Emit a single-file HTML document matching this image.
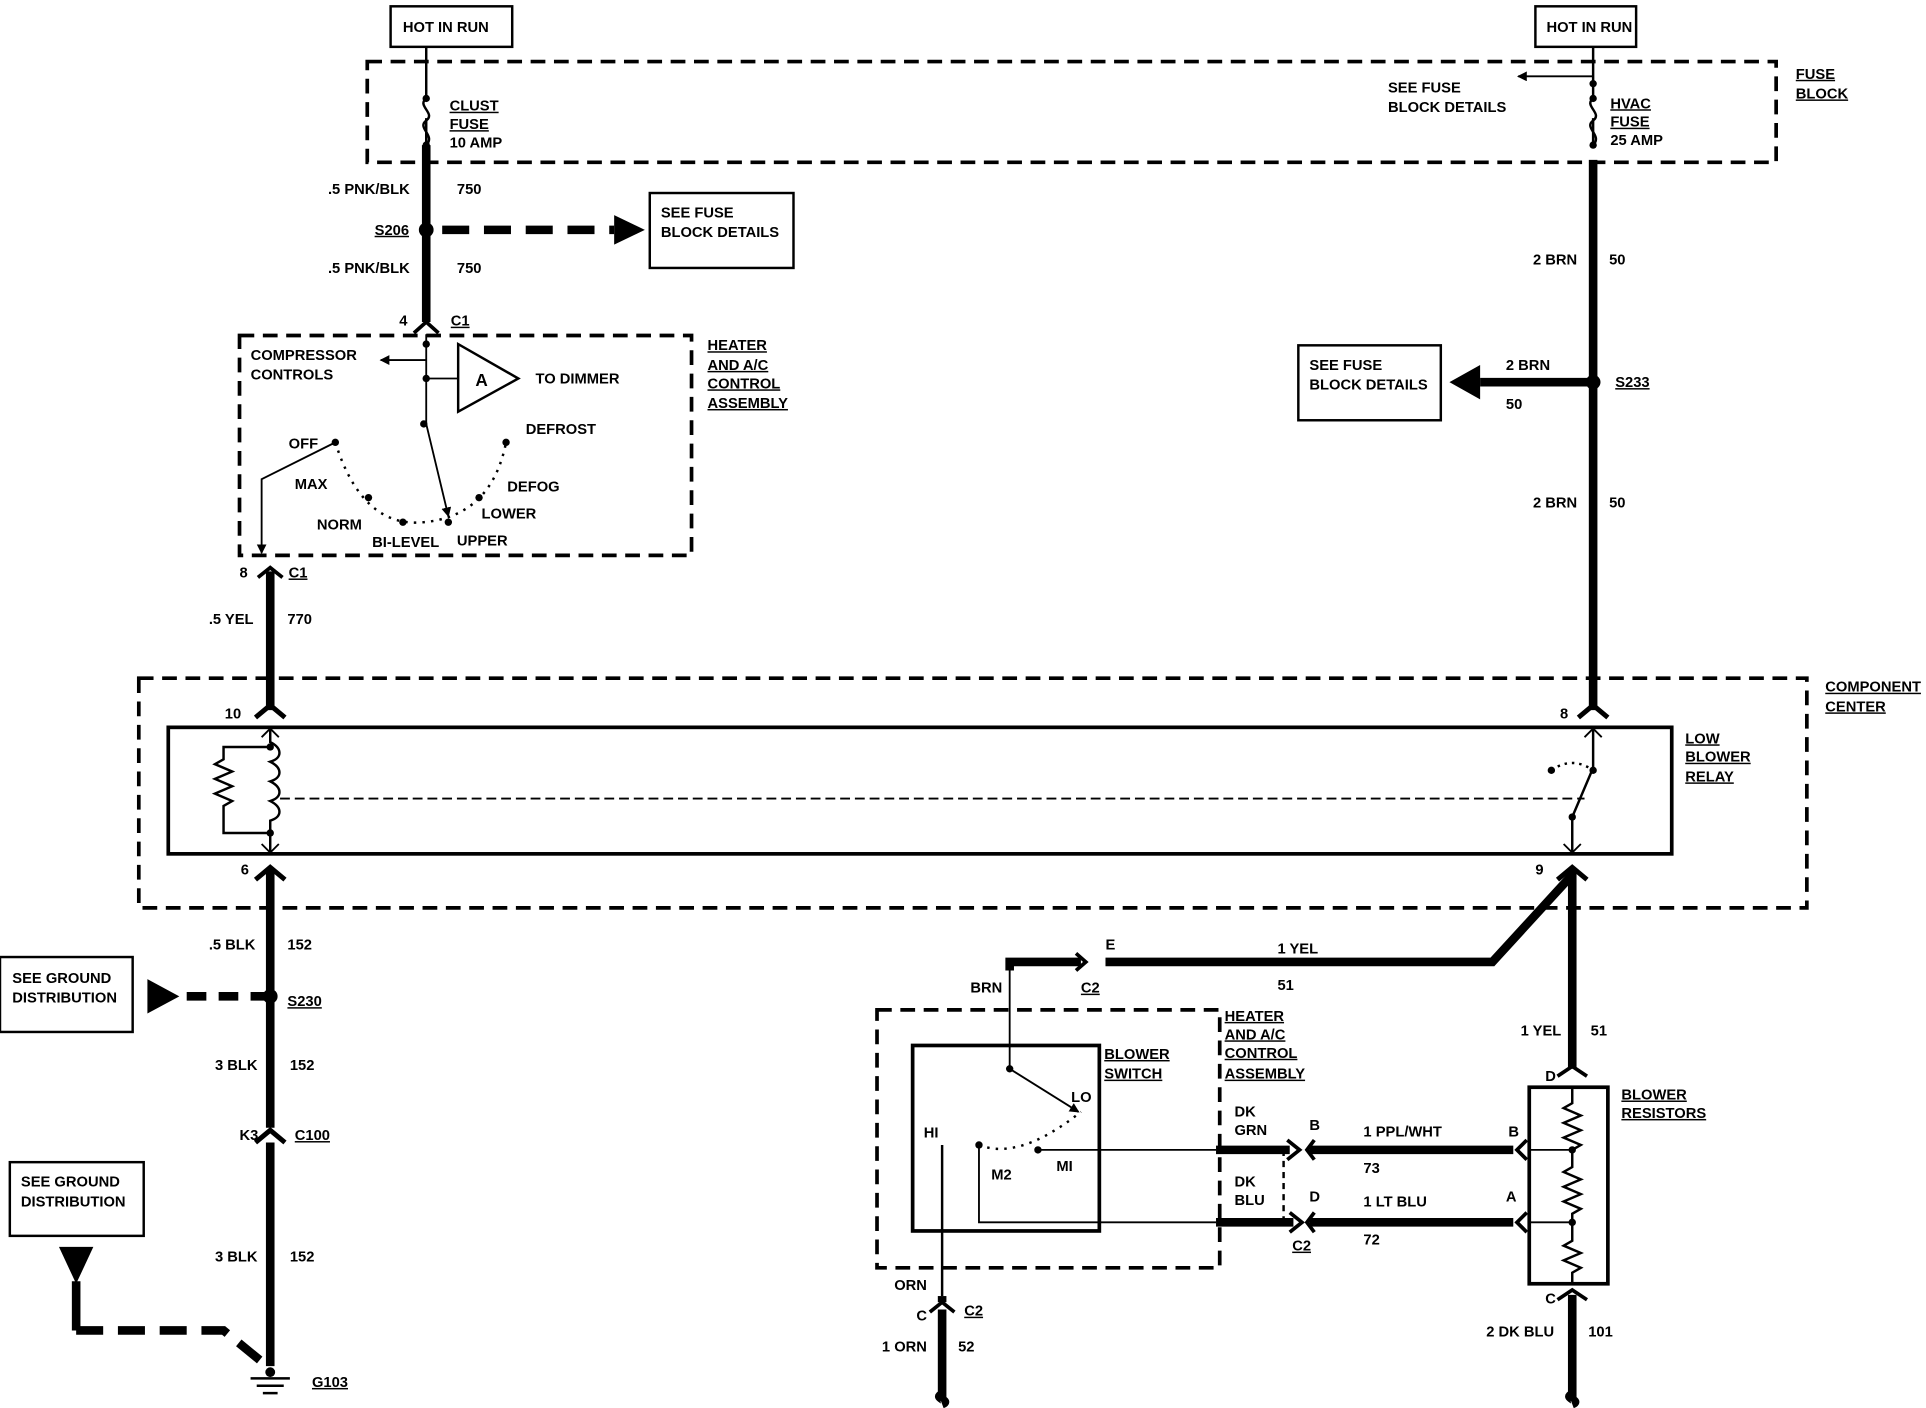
<!DOCTYPE html>
<html><head><style>
html,body{margin:0;padding:0;background:#fff;}
svg{display:block;}
text{font-family:"Liberation Sans",sans-serif;font-weight:bold;font-size:12px;fill:#000;}
.u{text-decoration:underline;}
</style></head><body>
<svg width="1926" height="1408" viewBox="0 0 1568 1146" xmlns="http://www.w3.org/2000/svg">
<defs>
<marker id="ah" markerWidth="8" markerHeight="8" refX="7" refY="4" orient="auto" markerUnits="userSpaceOnUse"><path d="M0,0 L8,4 L0,8 z" fill="#000"/></marker>
</defs>
<g fill="none" stroke="#000">
<rect x="318" y="5" width="99" height="33" stroke-width="2"/>
<rect x="1250" y="5" width="82" height="33" stroke-width="2"/>
<rect x="299" y="50" width="1147" height="82" stroke-width="3" stroke-dasharray="12,7"/>
<path d="M347,38 V80 M347,118 V96" stroke-width="2"/>
<path d="M347,80 c-8,6 8,12 0,18 c-8,6 8,12 0,20" stroke-width="2"/>
<path d="M347,118 V262" stroke-width="7"/>
<path d="M337,271 L347,262 L357,271" stroke-width="3"/>
<path d="M360,187 H500" stroke-width="7" stroke-dasharray="22,12"/>
<rect x="529" y="157" width="117" height="61" stroke-width="2"/>
<rect x="195" y="273" width="368" height="179" stroke-width="3" stroke-dasharray="12,7"/>
<path d="M347,272 V345 L365,420" stroke-width="1.5" marker-end="url(#ah)"/>
<path d="M347,293 H310" stroke-width="1.5" marker-end="url(#ah)"/>
<path d="M347,308 H373" stroke-width="1.5"/>
<path d="M373,280 L373,335 L422,308 Z" stroke-width="2"/>
<path d="M273,360 Q295,430 345,425 Q400,420 412,360" stroke-width="2" stroke-dasharray="2,5"/>
<path d="M273,360 L213,390 V450" stroke-width="1.5" marker-end="url(#ah)"/>
<path d="M210,470 L220,462 L230,470" stroke-width="3"/>
<path d="M220,465 V578" stroke-width="7"/>
<rect x="113" y="552" width="1358" height="187" stroke-width="3" stroke-dasharray="12,7"/>
<path d="M208,584 L220,574 L232,584" stroke-width="4"/>
<rect x="137" y="592" width="1224" height="103" stroke-width="3"/>
<path d="M220,592 V604 c10,5 10,13 0,16 c10,5 10,13 0,16 c10,5 10,13 0,16 c10,5 10,13 0,16 V695" stroke-width="2"/>
<path d="M213,600 L220,593 L227,600 M213,687 L220,694 L227,687" stroke-width="1.5"/>
<path d="M220,608 H182 V618 l-7,4 14,6 -14,6 14,6 -14,6 14,6 -7,4 V678 H220" stroke-width="2"/>
<path d="M228,650 H1290" stroke-width="1.5" stroke-dasharray="8,4"/>
<path d="M1297,130 V578" stroke-width="7"/>
<path d="M1285,584 L1297,574 L1309,584" stroke-width="4"/>
<path d="M1297,592 V625 L1280,665 V695" stroke-width="2"/>
<path d="M1290,600 L1297,593 L1304,600 M1273,687 L1280,694 L1287,687" stroke-width="1.5"/>
<path d="M1263,627 Q1280,615 1297,627" stroke-width="2" stroke-dasharray="2,4"/>
<path d="M1297,38 V80 M1297,118 V96" stroke-width="2"/>
<path d="M1297,80 c-8,6 8,12 0,18 c-8,6 8,12 0,20" stroke-width="2"/>
<path d="M1297,68 V62 H1236" stroke-width="1.5" marker-end="url(#ah)"/>
<path d="M1297,311 H1205" stroke-width="7"/>
<rect x="1057" y="281" width="116" height="61" stroke-width="2"/>
<path d="M208,716 L220,706 L232,716" stroke-width="4"/>
<path d="M220,708 V918 M220,930 V1112" stroke-width="7"/>
<path d="M208,930 L220,920 L232,930" stroke-width="4"/>
<path d="M220,811 H150" stroke-width="7" stroke-dasharray="16,10"/>
<rect x="0" y="779" width="108" height="61" stroke-width="2"/>
<rect x="8" y="946" width="109" height="60" stroke-width="2"/>
<path d="M62,1043 V1083" stroke-width="7"/>
<path d="M62,1083 H182 L215,1110" stroke-width="7" stroke-dasharray="22,12"/>
<path d="M204,1122 H236 M209,1128 H231 M214,1134 H226" stroke-width="2"/>
<path d="M1268,716 L1280,706 L1292,716" stroke-width="4"/>
<path d="M1280,708 V870" stroke-width="7"/>
<path d="M1280,712 L1215,783 H900" stroke-width="7"/>
<path d="M876,776 L884,783 L876,790" stroke-width="3"/>
<path d="M880,783 H822 V790" stroke-width="7"/>
<path d="M822,790 V870 L878,905" stroke-width="1.5" marker-end="url(#ah)"/>
<rect x="714" y="822" width="279" height="210" stroke-width="3" stroke-dasharray="12,7"/>
<rect x="743" y="851" width="152" height="151" stroke-width="3"/>
<path d="M797,932 Q830,945 880,905" stroke-width="2" stroke-dasharray="2,5"/>
<path d="M845,936 H990 M797,932 V995 H990" stroke-width="1.5"/>
<path d="M990,936 H1050 M990,995 H1053" stroke-width="7"/>
<path d="M1045,936 V995" stroke-width="2" stroke-dasharray="5,4"/>
<path d="M1048,928 L1058,936 L1048,944 M1050,987 L1060,995 L1050,1003" stroke-width="3"/>
<path d="M1070,928 L1064,936 L1070,944 M1070,987 L1064,995 L1070,1003" stroke-width="3"/>
<path d="M1066,936 H1232 M1066,995 H1232" stroke-width="7"/>
<path d="M1243,928 L1235,936 L1243,944 M1243,987 L1235,995 L1243,1003" stroke-width="3"/>
<rect x="1245" y="885" width="64" height="160" stroke-width="3"/>
<path d="M1268,876 L1280,868 L1292,876" stroke-width="3"/>
<path d="M1280,885 V898 l-7,4 14,6 -14,6 14,6 -14,6 14,6 -7,4 V950 l-7,4 14,6 -14,6 14,6 -14,6 14,6 -7,4 V1010 l-7,4 14,6 -14,6 14,6 -7,4 V1045" stroke-width="2"/>
<path d="M1245,936 H1280 M1245,995 H1280" stroke-width="1.5"/>
<path d="M1268,1058 L1280,1050 L1292,1058" stroke-width="3"/>
<path d="M1280,1054 V1135 c-8,3 8,5 0,8" stroke-width="7"/>
<path d="M767,932 V1055" stroke-width="2"/>
<path d="M767,1055 V1060" stroke-width="7"/>
<path d="M757,1068 L767,1060 L777,1068" stroke-width="3"/>
<path d="M767,1066 V1135 c-8,3 8,5 0,8" stroke-width="7"/>
</g>
<g fill="#000">
<circle cx="347" cy="80" r="3"/><circle cx="347" cy="118" r="3"/>
<circle cx="347" cy="187" r="6"/>
<path d="M500,175 L525,187 L500,199 Z"/>
<circle cx="347" cy="280" r="3"/><circle cx="347" cy="308" r="3"/><circle cx="345" cy="345" r="3"/>
<circle cx="273" cy="360" r="3"/><circle cx="300" cy="405" r="3"/><circle cx="328" cy="425" r="3"/><circle cx="365" cy="425" r="3"/><circle cx="390" cy="405" r="3"/><circle cx="412" cy="360" r="3"/>
<circle cx="220" cy="608" r="3"/><circle cx="220" cy="678" r="3"/>
<circle cx="1263" cy="627" r="3"/><circle cx="1297" cy="627" r="3"/><circle cx="1280" cy="665" r="3"/>
<circle cx="1297" cy="68" r="3"/><circle cx="1297" cy="80" r="3"/><circle cx="1297" cy="118" r="3"/>
<circle cx="1297" cy="311" r="6"/>
<path d="M1205,297 L1180,311 L1205,325 Z"/>
<circle cx="220" cy="811" r="6"/>
<path d="M120,797 L146,811 L120,825 Z"/>
<path d="M48,1015 L76,1015 L62,1045 Z"/>
<circle cx="220" cy="1117" r="4"/>
<circle cx="822" cy="870" r="3"/><circle cx="797" cy="932" r="3"/><circle cx="845" cy="936" r="3"/>
<circle cx="1280" cy="936" r="3"/><circle cx="1280" cy="995" r="3"/>
</g>
<text x="328" y="26">HOT IN RUN</text>
<text x="1259" y="26">HOT IN RUN</text>
<text x="1462" y="64" class="u">FUSE</text><text x="1462" y="80" class="u">BLOCK</text>
<text x="366" y="90" class="u">CLUST</text><text x="366" y="105" class="u">FUSE</text><text x="366" y="120">10 AMP</text>
<text x="267" y="158">.5 PNK/BLK</text><text x="372" y="158">750</text>
<text x="305" y="191" class="u">S206</text>
<text x="538" y="177">SEE FUSE</text><text x="538" y="193">BLOCK DETAILS</text>
<text x="267" y="222">.5 PNK/BLK</text><text x="372" y="222">750</text>
<text x="325" y="265">4</text><text x="367" y="265" class="u">C1</text>
<text x="576" y="285" class="u">HEATER</text><text x="576" y="301" class="u">AND A/C</text><text x="576" y="316" class="u">CONTROL</text><text x="576" y="332" class="u">ASSEMBLY</text>
<text x="204" y="293">COMPRESSOR</text><text x="204" y="309">CONTROLS</text>
<text x="387" y="314" style="font-size:14px">A</text>
<text x="436" y="312">TO DIMMER</text>
<text x="428" y="353">DEFROST</text>
<text x="235" y="365">OFF</text><text x="240" y="398">MAX</text><text x="413" y="400">DEFOG</text>
<text x="392" y="422">LOWER</text><text x="258" y="431">NORM</text>
<text x="303" y="445">BI-LEVEL</text><text x="372" y="444">UPPER</text>
<text x="195" y="470">8</text><text x="235" y="470" class="u">C1</text>
<text x="170" y="508">.5 YEL</text><text x="234" y="508">770</text>
<text x="1486" y="563" class="u">COMPONENT</text><text x="1486" y="579" class="u">CENTER</text>
<text x="183" y="585">10</text><text x="1270" y="585">8</text>
<text x="1372" y="605" class="u">LOW</text><text x="1372" y="620" class="u">BLOWER</text><text x="1372" y="636" class="u">RELAY</text>
<text x="1130" y="75">SEE FUSE</text><text x="1130" y="91">BLOCK DETAILS</text>
<text x="1311" y="88" class="u">HVAC</text><text x="1311" y="103" class="u">FUSE</text><text x="1311" y="118">25 AMP</text>
<text x="1248" y="215">2 BRN</text><text x="1310" y="215">50</text>
<text x="1066" y="301">SEE FUSE</text><text x="1066" y="317">BLOCK DETAILS</text>
<text x="1226" y="301">2 BRN</text><text x="1226" y="333">50</text>
<text x="1315" y="315" class="u">S233</text>
<text x="1248" y="413">2 BRN</text><text x="1310" y="413">50</text>
<text x="196" y="712">6</text><text x="1250" y="712">9</text>
<text x="170" y="773">.5 BLK</text><text x="234" y="773">152</text>
<text x="10" y="800">SEE GROUND</text><text x="10" y="816">DISTRIBUTION</text>
<text x="234" y="819" class="u">S230</text>
<text x="175" y="871">3 BLK</text><text x="236" y="871">152</text>
<text x="195" y="928">K3</text><text x="240" y="928" class="u">C100</text>
<text x="17" y="966">SEE GROUND</text><text x="17" y="982">DISTRIBUTION</text>
<text x="175" y="1027">3 BLK</text><text x="236" y="1027">152</text>
<text x="254" y="1129" class="u">G103</text>
<text x="900" y="773">E</text><text x="880" y="808" class="u">C2</text>
<text x="1040" y="776">1 YEL</text><text x="1040" y="806">51</text>
<text x="790" y="808">BRN</text>
<text x="997" y="831" class="u">HEATER</text><text x="997" y="846" class="u">AND A/C</text><text x="997" y="861" class="u">CONTROL</text><text x="997" y="878" class="u">ASSEMBLY</text>
<text x="899" y="862" class="u">BLOWER</text><text x="899" y="878" class="u">SWITCH</text>
<text x="1238" y="843">1 YEL</text><text x="1295" y="843">51</text>
<text x="1258" y="880">D</text>
<text x="1320" y="895" class="u">BLOWER</text><text x="1320" y="910" class="u">RESISTORS</text>
<text x="872" y="897">LO</text><text x="752" y="926">HI</text><text x="807" y="960">M2</text><text x="860" y="953">MI</text>
<text x="1005" y="909">DK</text><text x="1005" y="924">GRN</text>
<text x="1005" y="966">DK</text><text x="1005" y="981">BLU</text>
<text x="1066" y="920">B</text><text x="1066" y="978">D</text>
<text x="1052" y="1018" class="u">C2</text>
<text x="1110" y="925">1 PPL/WHT</text><text x="1110" y="955">73</text>
<text x="1110" y="982">1 LT BLU</text><text x="1110" y="1013">72</text>
<text x="1228" y="925">B</text><text x="1226" y="978">A</text>
<text x="1258" y="1061">C</text>
<text x="1210" y="1088">2 DK BLU</text><text x="1293" y="1088">101</text>
<text x="728" y="1050">ORN</text><text x="785" y="1071" class="u">C2</text>
<text x="746" y="1075">C</text>
<text x="718" y="1100">1 ORN</text><text x="780" y="1100">52</text>
</svg>
</body></html>
